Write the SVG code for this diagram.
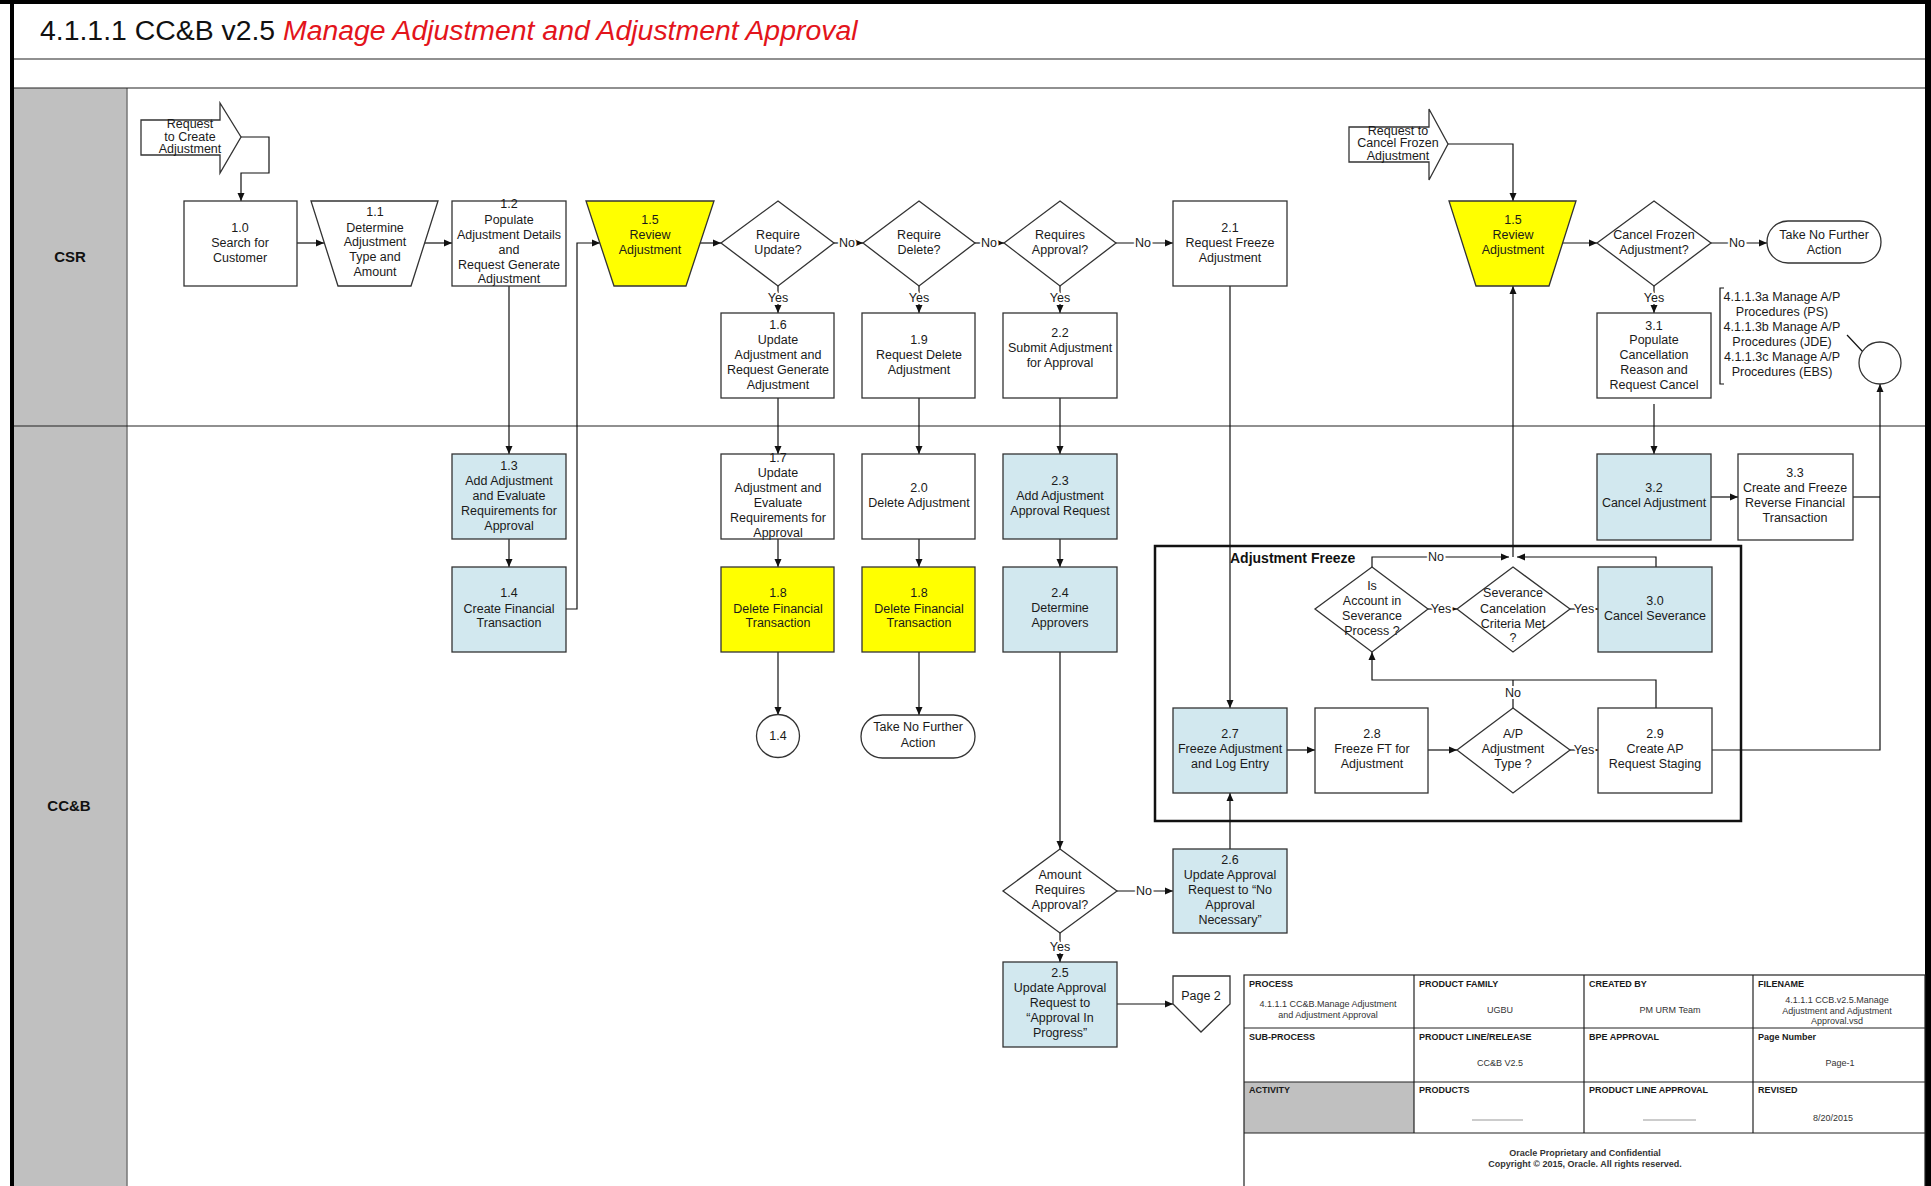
<svg xmlns="http://www.w3.org/2000/svg" width="1931" height="1186" viewBox="0 0 1931 1186">
<style>
.b{fill:#fff;stroke:#333;stroke-width:1.3}
.bl{fill:#D2E8EF;stroke:#333;stroke-width:1.3}
.y{fill:#FFFF00;stroke:#333;stroke-width:1.3}
.t{font-family:"Liberation Sans",Arial,sans-serif;font-size:12.5px;fill:#1a1a1a;text-anchor:middle}
.lb{font-family:"Liberation Sans",Arial,sans-serif;font-size:12.5px;fill:#1a1a1a;text-anchor:middle;stroke:#fff;stroke-width:4px;paint-order:stroke;stroke-linejoin:round}
.c{fill:none;stroke:#111;stroke-width:1.2}
.a{marker-end:url(#ah)}
.th{font-family:"Liberation Sans",Arial,sans-serif;font-size:9px;font-weight:bold;fill:#1a1a1a}
.tv{font-family:"Liberation Sans",Arial,sans-serif;font-size:9px;fill:#333;text-anchor:middle}
.ln{stroke:#222;stroke-width:1.2;fill:none}
</style>
<defs>
<marker id="ah" viewBox="0 0 8 8" refX="8" refY="4" markerWidth="8" markerHeight="8" markerUnits="userSpaceOnUse" orient="auto">
<path d="M0,0.5 L8,4 L0,7.5 z" fill="#111"/>
</marker>
</defs>
<rect x="0" y="0" width="1931" height="1186" fill="#fff"/>
<g id="frame">
<rect x="14" y="88" width="113" height="1098" fill="#C0C0C0"/>
<line x1="127" y1="88" x2="127" y2="1186" stroke="#777" stroke-width="1.5"/>
<line x1="12" y1="59" x2="1925" y2="59" class="ln"/>
<line x1="12" y1="88" x2="1925" y2="88" class="ln"/>
<line x1="12" y1="426" x2="1925" y2="426" class="ln"/>
<rect x="0" y="0" width="1931" height="4" fill="#000"/>
<rect x="10" y="0" width="4" height="1186" fill="#000"/>
<rect x="1925" y="0" width="6" height="1186" fill="#000"/>
<text x="40" y="40" font-family="Liberation Sans, Arial, sans-serif" font-size="28.4" fill="#111">4.1.1.1 CC&amp;B v2.5 <tspan fill="#E3141B" font-style="italic">Manage Adjustment and Adjustment Approval</tspan></text>
<text x="70" y="262" font-family="Liberation Sans, Arial, sans-serif" font-size="15" font-weight="bold" text-anchor="middle" fill="#111">CSR</text>
<text x="69" y="811" font-family="Liberation Sans, Arial, sans-serif" font-size="15" font-weight="bold" text-anchor="middle" fill="#111">CC&amp;B</text>
</g>
<g id="connectors">
<polyline class="c a" points="241,137 269,137 269,173 241,173 241,201"/>
<line class="c a" x1="297" y1="243" x2="324" y2="243"/>
<line class="c a" x1="424" y1="243" x2="452" y2="243"/>
<line class="c a" x1="509" y1="286" x2="509" y2="454"/>
<line class="c a" x1="509" y1="539" x2="509" y2="567"/>
<polyline class="c a" points="566,609 577,609 577,243 600,243"/>
<line class="c a" x1="700" y1="243" x2="721" y2="243"/>
<line class="c a" x1="834" y1="243" x2="863" y2="243"/>
<line class="c a" x1="975" y1="243" x2="1004" y2="243"/>
<line class="c a" x1="1116" y1="243" x2="1173" y2="243"/>
<line class="c a" x1="778" y1="286" x2="778" y2="313"/>
<line class="c a" x1="919" y1="286" x2="919" y2="313"/>
<line class="c a" x1="1060" y1="286" x2="1060" y2="313"/>
<line class="c a" x1="778" y1="398" x2="778" y2="454"/>
<line class="c a" x1="919" y1="398" x2="919" y2="454"/>
<line class="c a" x1="1060" y1="398" x2="1060" y2="454"/>
<line class="c a" x1="778" y1="539" x2="778" y2="567"/>
<line class="c a" x1="919" y1="539" x2="919" y2="567"/>
<line class="c a" x1="1060" y1="539" x2="1060" y2="567"/>
<line class="c a" x1="778" y1="652" x2="778" y2="715"/>
<line class="c a" x1="919" y1="652" x2="919" y2="715"/>
<line class="c a" x1="1060" y1="652" x2="1060" y2="849"/>
<line class="c a" x1="1117" y1="891" x2="1173" y2="891"/>
<line class="c a" x1="1060" y1="933" x2="1060" y2="962"/>
<line class="c a" x1="1117" y1="1004" x2="1173" y2="1004"/>
<line class="c a" x1="1230" y1="849" x2="1230" y2="793"/>
<line class="c a" x1="1230" y1="286" x2="1230" y2="708"/>
<line class="c a" x1="1287" y1="750" x2="1315" y2="750"/>
<line class="c a" x1="1428" y1="750" x2="1457" y2="750"/>
<line class="c a" x1="1570" y1="750" x2="1598" y2="750"/>
<line class="c" x1="1513" y1="708" x2="1513" y2="680"/>
<polyline class="c a" points="1656,708 1656,680 1372,680 1372,652"/>
<line class="c a" x1="1428" y1="609" x2="1457" y2="609"/>
<line class="c a" x1="1570" y1="609" x2="1598" y2="609"/>
<polyline class="c a" points="1656,567 1656,557 1517,557"/>
<polyline class="c a" points="1372,567 1372,557 1509,557"/>
<line class="c a" x1="1513" y1="557" x2="1513" y2="286"/>
<polyline class="c a" points="1448,144 1513,144 1513,201"/>
<line class="c a" x1="1562" y1="243" x2="1597" y2="243"/>
<line class="c a" x1="1711" y1="243" x2="1767" y2="243"/>
<line class="c a" x1="1654" y1="286" x2="1654" y2="313"/>
<line class="c a" x1="1654" y1="404" x2="1654" y2="454"/>
<line class="c a" x1="1711" y1="497" x2="1738" y2="497"/>
<polyline class="c a" points="1712,750 1880,750 1880,384"/>
<line class="c" x1="1853" y1="497" x2="1880" y2="497"/>
<line class="c" x1="1847" y1="335" x2="1863" y2="352"/>
<path class="c" d="M1724,288 L1720,288 L1720,384 L1724,384"/>
<text class="lb" x="847" y="247">No</text>
<text class="lb" x="989" y="247">No</text>
<text class="lb" x="1143" y="247">No</text>
<text class="lb" x="778" y="302">Yes</text>
<text class="lb" x="919" y="302">Yes</text>
<text class="lb" x="1060" y="302">Yes</text>
<text class="lb" x="1144" y="895">No</text>
<text class="lb" x="1060" y="951">Yes</text>
<text class="lb" x="1584" y="754">Yes</text>
<text class="lb" x="1513" y="697">No</text>
<text class="lb" x="1441" y="613">Yes</text>
<text class="lb" x="1584" y="613">Yes</text>
<text class="lb" x="1436" y="561">No</text>
<text class="lb" x="1737" y="247">No</text>
<text class="lb" x="1654" y="302">Yes</text>
</g>
<g id="start1">
<polygon class="b" points="141,120 220,120 220,103 241,137 220,173 220,155 141,155"/>
<text class="t"><tspan x="190" y="128">Request</tspan><tspan x="190" y="141">to Create</tspan><tspan x="190" y="153">Adjustment</tspan></text>
</g>
<g id="n10"><rect class="b" x="184" y="201" width="113" height="85"/>
<text class="t"><tspan x="240" y="232">1.0</tspan><tspan x="240" y="247">Search for</tspan><tspan x="240" y="262">Customer</tspan></text></g>
<g id="n11"><polygon class="b" points="311,201 438,201 411,286 338,286"/>
<text class="t"><tspan x="375" y="216">1.1</tspan><tspan x="375" y="232">Determine</tspan><tspan x="375" y="246">Adjustment</tspan><tspan x="375" y="261">Type and</tspan><tspan x="375" y="276">Amount</tspan></text></g>
<g id="n12"><rect class="b" x="452" y="201" width="114" height="85"/>
<text class="t"><tspan x="509" y="208">1.2</tspan><tspan x="509" y="224">Populate</tspan><tspan x="509" y="239">Adjustment Details</tspan><tspan x="509" y="254">and</tspan><tspan x="509" y="269">Request Generate</tspan><tspan x="509" y="283">Adjustment</tspan></text></g>
<g id="n15a"><polygon class="y" points="586,201 714,201 686,286 614,286"/>
<text class="t"><tspan x="650" y="224">1.5</tspan><tspan x="650" y="239">Review</tspan><tspan x="650" y="254">Adjustment</tspan></text></g>
<g id="dUpd"><polygon class="b" points="778,201 834,243 778,286 721,243"/>
<text class="t"><tspan x="778" y="239">Require</tspan><tspan x="778" y="254">Update?</tspan></text></g>
<g id="dDel"><polygon class="b" points="919,201 975,243 919,286 863,243"/>
<text class="t"><tspan x="919" y="239">Require</tspan><tspan x="919" y="254">Delete?</tspan></text></g>
<g id="dApp"><polygon class="b" points="1060,201 1116,243 1060,286 1004,243"/>
<text class="t"><tspan x="1060" y="239">Requires</tspan><tspan x="1060" y="254">Approval?</tspan></text></g>
<g id="n21"><rect class="b" x="1173" y="201" width="114" height="85"/>
<text class="t"><tspan x="1230" y="232">2.1</tspan><tspan x="1230" y="247">Request Freeze</tspan><tspan x="1230" y="262">Adjustment</tspan></text></g>
<g id="n16"><rect class="b" x="721" y="313" width="113" height="85"/>
<text class="t"><tspan x="778" y="329">1.6</tspan><tspan x="778" y="344">Update</tspan><tspan x="778" y="359">Adjustment and</tspan><tspan x="778" y="374">Request Generate</tspan><tspan x="778" y="389">Adjustment</tspan></text></g>
<g id="n19"><rect class="b" x="862" y="313" width="113" height="85"/>
<text class="t"><tspan x="919" y="344">1.9</tspan><tspan x="919" y="359">Request Delete</tspan><tspan x="919" y="374">Adjustment</tspan></text></g>
<g id="n22"><rect class="b" x="1003" y="313" width="114" height="85"/>
<text class="t"><tspan x="1060" y="337">2.2</tspan><tspan x="1060" y="352">Submit Adjustment</tspan><tspan x="1060" y="367">for Approval</tspan></text></g>
<g id="n13"><rect class="bl" x="452" y="454" width="114" height="85"/>
<text class="t"><tspan x="509" y="470">1.3</tspan><tspan x="509" y="485">Add Adjustment</tspan><tspan x="509" y="500">and Evaluate</tspan><tspan x="509" y="515">Requirements for</tspan><tspan x="509" y="530">Approval</tspan></text></g>
<g id="n14"><rect class="bl" x="452" y="567" width="114" height="85"/>
<text class="t"><tspan x="509" y="597">1.4</tspan><tspan x="509" y="613">Create Financial</tspan><tspan x="509" y="627">Transaction</tspan></text></g>
<g id="n17"><rect class="b" x="721" y="454" width="113" height="85"/>
<text class="t"><tspan x="778" y="462">1.7</tspan><tspan x="778" y="477">Update</tspan><tspan x="778" y="492">Adjustment and</tspan><tspan x="778" y="507">Evaluate</tspan><tspan x="778" y="522">Requirements for</tspan><tspan x="778" y="537">Approval</tspan></text></g>
<g id="n20"><rect class="b" x="862" y="454" width="113" height="85"/>
<text class="t"><tspan x="919" y="492">2.0</tspan><tspan x="919" y="507">Delete Adjustment</tspan></text></g>
<g id="n23"><rect class="bl" x="1003" y="454" width="114" height="85"/>
<text class="t"><tspan x="1060" y="485">2.3</tspan><tspan x="1060" y="500">Add Adjustment</tspan><tspan x="1060" y="515">Approval Request</tspan></text></g>
<g id="n18a"><rect class="y" x="721" y="567" width="113" height="85"/>
<text class="t"><tspan x="778" y="597">1.8</tspan><tspan x="778" y="613">Delete Financial</tspan><tspan x="778" y="627">Transaction</tspan></text></g>
<g id="n18b"><rect class="y" x="862" y="567" width="113" height="85"/>
<text class="t"><tspan x="919" y="597">1.8</tspan><tspan x="919" y="613">Delete Financial</tspan><tspan x="919" y="627">Transaction</tspan></text></g>
<g id="n24"><rect class="bl" x="1003" y="567" width="114" height="85"/>
<text class="t"><tspan x="1060" y="597">2.4</tspan><tspan x="1060" y="612">Determine</tspan><tspan x="1060" y="627">Approvers</tspan></text></g>
<g id="c14"><circle class="b" cx="778" cy="736" r="21.5"/>
<text class="t" x="778" y="740">1.4</text></g>
<g id="t1"><rect class="b" x="861" y="715" width="114" height="43" rx="21.5"/>
<text class="t"><tspan x="918" y="731">Take No Further</tspan><tspan x="918" y="747">Action</tspan></text></g>
<g id="dAmt"><polygon class="b" points="1060,849 1117,891 1060,933 1003,891"/>
<text class="t"><tspan x="1060" y="879">Amount</tspan><tspan x="1060" y="894">Requires</tspan><tspan x="1060" y="909">Approval?</tspan></text></g>
<g id="n26"><rect class="bl" x="1173" y="849" width="114" height="84"/>
<text class="t"><tspan x="1230" y="864">2.6</tspan><tspan x="1230" y="879">Update Approval</tspan><tspan x="1230" y="894">Request to “No</tspan><tspan x="1230" y="909">Approval</tspan><tspan x="1230" y="924">Necessary”</tspan></text></g>
<g id="n25"><rect class="bl" x="1003" y="962" width="114" height="85"/>
<text class="t"><tspan x="1060" y="977">2.5</tspan><tspan x="1060" y="992">Update Approval</tspan><tspan x="1060" y="1007">Request to</tspan><tspan x="1060" y="1022">“Approval In</tspan><tspan x="1060" y="1037">Progress”</tspan></text></g>
<g id="page2"><polygon class="b" points="1173,976 1230,976 1230,1004 1201,1032 1173,1004"/>
<text class="t" x="1201" y="1000">Page 2</text></g>
<g id="freeze">
<rect x="1155" y="546" width="586" height="275" fill="none" stroke="#111" stroke-width="2.5"/>
<text x="1230" y="563" font-family="Liberation Sans, Arial, sans-serif" font-size="14" font-weight="bold" fill="#111">Adjustment Freeze</text>
</g>
<g id="n27"><rect class="bl" x="1173" y="708" width="114" height="85"/>
<text class="t"><tspan x="1230" y="738">2.7</tspan><tspan x="1230" y="753">Freeze Adjustment</tspan><tspan x="1230" y="768">and Log Entry</tspan></text></g>
<g id="n28"><rect class="b" x="1315" y="708" width="113" height="85"/>
<text class="t"><tspan x="1372" y="738">2.8</tspan><tspan x="1372" y="753">Freeze FT for</tspan><tspan x="1372" y="768">Adjustment</tspan></text></g>
<g id="dAP"><polygon class="b" points="1513,708 1570,750 1513,793 1457,750"/>
<text class="t"><tspan x="1513" y="738">A/P</tspan><tspan x="1513" y="753">Adjustment</tspan><tspan x="1513" y="768">Type ?</tspan></text></g>
<g id="n29"><rect class="b" x="1598" y="708" width="114" height="85"/>
<text class="t"><tspan x="1655" y="738">2.9</tspan><tspan x="1655" y="753">Create AP</tspan><tspan x="1655" y="768">Request Staging</tspan></text></g>
<g id="dAcc"><polygon class="b" points="1372,567 1428,609 1372,652 1315,609"/>
<text class="t"><tspan x="1372" y="590">Is</tspan><tspan x="1372" y="605">Account in</tspan><tspan x="1372" y="620">Severance</tspan><tspan x="1372" y="635">Process ?</tspan></text></g>
<g id="dSev"><polygon class="b" points="1513,567 1570,609 1513,652 1457,609"/>
<text class="t"><tspan x="1513" y="597">Severance</tspan><tspan x="1513" y="613">Cancelation</tspan><tspan x="1513" y="628">Criteria Met</tspan><tspan x="1513" y="642">?</tspan></text></g>
<g id="n30"><rect class="bl" x="1598" y="567" width="114" height="85"/>
<text class="t"><tspan x="1655" y="605">3.0</tspan><tspan x="1655" y="620">Cancel Severance</tspan></text></g>
<g id="start2">
<polygon class="b" points="1349,127 1429,127 1429,109 1448,144 1429,180 1429,162 1349,162"/>
<text class="t"><tspan x="1398" y="135">Request to</tspan><tspan x="1398" y="147">Cancel Frozen</tspan><tspan x="1398" y="160">Adjustment</tspan></text>
</g>
<g id="n15b"><polygon class="y" points="1449,201 1576,201 1549,286 1476,286"/>
<text class="t"><tspan x="1513" y="224">1.5</tspan><tspan x="1513" y="239">Review</tspan><tspan x="1513" y="254">Adjustment</tspan></text></g>
<g id="dCan"><polygon class="b" points="1654,201 1711,243 1654,286 1597,243"/>
<text class="t"><tspan x="1654" y="239">Cancel Frozen</tspan><tspan x="1654" y="254">Adjustment?</tspan></text></g>
<g id="t2"><rect class="b" x="1767" y="221" width="114" height="42" rx="21"/>
<text class="t"><tspan x="1824" y="239">Take No Further</tspan><tspan x="1824" y="254">Action</tspan></text></g>
<g id="n31"><rect class="b" x="1597" y="313" width="114" height="85"/>
<text class="t"><tspan x="1654" y="330">3.1</tspan><tspan x="1654" y="344">Populate</tspan><tspan x="1654" y="359">Cancellation</tspan><tspan x="1654" y="374">Reason and</tspan><tspan x="1654" y="389">Request Cancel</tspan></text></g>
<g id="note">
<text class="t"><tspan x="1782" y="301">4.1.1.3a Manage A/P</tspan><tspan x="1782" y="316">Procedures (PS)</tspan><tspan x="1782" y="331">4.1.1.3b Manage A/P</tspan><tspan x="1782" y="346">Procedures (JDE)</tspan><tspan x="1782" y="361">4.1.1.3c Manage A/P</tspan><tspan x="1782" y="376">Procedures (EBS)</tspan></text>
</g>
<g id="cAP"><circle class="b" cx="1880" cy="363" r="21"/></g>
<g id="n32"><rect class="bl" x="1597" y="454" width="114" height="86"/>
<text class="t"><tspan x="1654" y="492">3.2</tspan><tspan x="1654" y="507">Cancel Adjustment</tspan></text></g>
<g id="n33"><rect class="b" x="1738" y="454" width="115" height="86"/>
<text class="t"><tspan x="1795" y="477">3.3</tspan><tspan x="1795" y="492">Create and Freeze</tspan><tspan x="1795" y="507">Reverse Financial</tspan><tspan x="1795" y="522">Transaction</tspan></text></g>
<g id="infotable">
<rect x="1244" y="1082" width="170" height="51" fill="#C0C0C0"/>
<rect x="1244" y="975" width="681" height="215" fill="none" stroke="#222" stroke-width="1.2"/>
<line class="ln" x1="1244" y1="1028" x2="1925" y2="1028"/>
<line class="ln" x1="1244" y1="1082" x2="1925" y2="1082"/>
<line class="ln" x1="1244" y1="1133" x2="1925" y2="1133"/>
<line class="ln" x1="1414" y1="975" x2="1414" y2="1133"/>
<line class="ln" x1="1584" y1="975" x2="1584" y2="1133"/>
<line class="ln" x1="1753" y1="975" x2="1753" y2="1133"/>
<text class="th" x="1249" y="987">PROCESS</text>
<text class="th" x="1419" y="987">PRODUCT FAMILY</text>
<text class="th" x="1589" y="987">CREATED BY</text>
<text class="th" x="1758" y="987">FILENAME</text>
<text class="th" x="1249" y="1040">SUB-PROCESS</text>
<text class="th" x="1419" y="1040">PRODUCT LINE/RELEASE</text>
<text class="th" x="1589" y="1040">BPE APPROVAL</text>
<text class="th" x="1758" y="1040">Page Number</text>
<text class="th" x="1249" y="1093">ACTIVITY</text>
<text class="th" x="1419" y="1093">PRODUCTS</text>
<text class="th" x="1589" y="1093">PRODUCT LINE APPROVAL</text>
<text class="th" x="1758" y="1093">REVISED</text>
<text class="tv"><tspan x="1328" y="1007">4.1.1.1 CC&amp;B.Manage Adjustment</tspan><tspan x="1328" y="1018">and Adjustment Approval</tspan></text>
<text class="tv" x="1500" y="1013">UGBU</text>
<text class="tv" x="1670" y="1013">PM URM Team</text>
<text class="tv"><tspan x="1837" y="1003">4.1.1.1 CCB.v2.5.Manage</tspan><tspan x="1837" y="1014">Adjustment and Adjustment</tspan><tspan x="1837" y="1024">Approval.vsd</tspan></text>
<text class="tv" x="1500" y="1066">CC&amp;B V2.5</text>
<text class="tv" x="1840" y="1066">Page-1</text>
<line x1="1472" y1="1120" x2="1523" y2="1120" stroke="#999" stroke-width="1"/>
<line x1="1643" y1="1120" x2="1696" y2="1120" stroke="#999" stroke-width="1"/>
<text class="tv" x="1833" y="1121">8/20/2015</text>
<text class="tv" font-weight="bold" fill="#1a1a1a"><tspan x="1585" y="1156">Oracle Proprietary and Confidential</tspan><tspan x="1585" y="1167">Copyright © 2015, Oracle. All rights reserved.</tspan></text>
</g>
</svg>
